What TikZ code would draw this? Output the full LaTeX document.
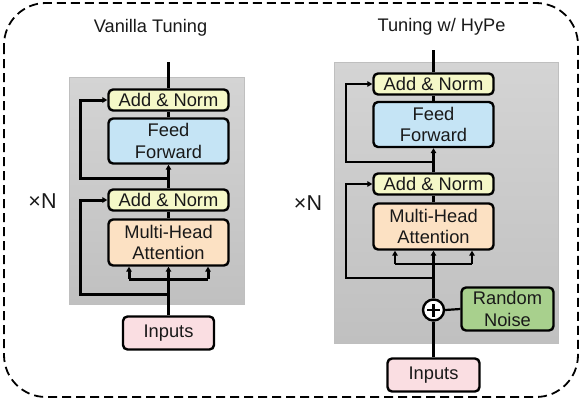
\documentclass[tikz,border=0pt]{standalone}
\usepackage{fontspec}
\setmainfont{Liberation Sans}
\usetikzlibrary{arrows.meta}
\definecolor{anY}{RGB}{245,248,200}
\definecolor{ffB}{RGB}{197,228,245}
\definecolor{mhO}{RGB}{252,225,195}
\definecolor{inP}{RGB}{250,222,226}
\definecolor{rnG}{RGB}{168,208,141}
\definecolor{gTop}{RGB}{212,212,212}
\definecolor{gBot}{RGB}{192,192,192}
\tikzset{
  blk/.style={draw=black, line width=2.4pt, rounded corners=4.5pt, inner sep=0pt, align=center,
    font=\fontsize{18.3}{21.5}\selectfont, text=black!90},
  addnorm/.style={blk, fill=anY, minimum width=120pt, minimum height=21pt},
  ffbox/.style={blk, fill=ffB, minimum width=120pt, minimum height=45pt},
  mhbox/.style={blk, fill=mhO, minimum width=120pt, minimum height=46pt},
  inbox/.style={blk, fill=inP, minimum width=91pt, minimum height=33pt},
  rnbox/.style={blk, fill=rnG, minimum width=92pt, minimum height=43pt},
  conn/.style={draw=black, line width=3pt},
  arr/.style={conn, -{Triangle[length=5pt,width=5.5pt]}},
  rconn/.style={conn, line width=2.2pt},
  rarr/.style={arr, line width=2.2pt},
  panel/.style={draw=black!25, line width=0.5pt, top color=gTop, bottom color=gBot},
  title/.style={font=\fontsize{18.2}{20}\selectfont, text=black!90, anchor=base},
  times/.style={font=\fontsize{21.5}{24}\selectfont, text=black!90, anchor=base},
}
\begin{document}
\begin{tikzpicture}[x=1pt,y=-1pt]
\useasboundingbox (0,0) rectangle (582,400);
% outer dashed frame
\draw[line width=1.8pt, dash pattern=on 9pt off 5pt, rounded corners=42pt] (4,3) rectangle (578,397);

% ---------------- Left: Vanilla Tuning ----------------
\node[title] (t1) at (150.5,32) {Vanilla Tuning};
\path[panel] (69,77) rectangle (244,304);
\node[times] (x1) at (42.5,208) {×N};

\node[addnorm] (an1) at (168.5,100) {Add \& Norm};
\node[ffbox]   (ff1) at (168.5,141) {Feed\\Forward};
\node[addnorm] (an2) at (168.5,200) {Add \& Norm};
\node[mhbox]   (mh1) at (168.5,242.5) {Multi-Head\\Attention};
\node[inbox]   (in1) at (168.5,333) {Inputs};
\coordinate (o1) at (168.5,62);

\coordinate (r1a) at (168.5,294);
\coordinate (r1b) at (80,294);
\coordinate (r2a) at (168.5,178);
\coordinate (r2b) at (80,178);
\coordinate (b1l) at (129,279);
\coordinate (b1r) at (208,279);

\draw[arr] (in1.north) -- (mh1.south);
\draw[conn] (b1l) -- (b1r);
\draw[arr] (b1l) -- (b1l |- mh1.south);
\draw[arr] (b1r) -- (b1r |- mh1.south);
\draw[arr] (r1a) -- (r1b) |- (an2.west);
\draw[conn] (mh1.north) -- (an2.south);
\draw[arr] (an2.north) -- (ff1.south);
\draw[arr] (r2a) -- (r2b) |- (an1.west);
\draw[conn] (ff1.north) -- (an1.south);
\draw[conn] (an1.north) -- (o1);

% ---------------- Right: Tuning w/ HyPe ----------------
\node[title] (t2) at (441.5,31) {Tuning w/ HyPe};
\path[panel] (334,62) rectangle (558,343);
\node[times] (x2) at (308,210) {×N};

\node[addnorm] (an3) at (433.5,84) {Add \& Norm};
\node[ffbox]   (ff2) at (433.5,124.5) {Feed\\Forward};
\node[addnorm] (an4) at (433.5,184) {Add \& Norm};
\node[mhbox]   (mh2) at (433.5,226.5) {Multi-Head\\Attention};
\node[draw=black, line width=2.4pt, fill=white, circle, minimum size=21pt, inner sep=0pt] (pl) at (433.5,310) {};
\draw[line width=2.8pt] ([yshift=-6.5pt]pl.center) -- ([yshift=6.5pt]pl.center)
                        ([xshift=-6.5pt]pl.center) -- ([xshift=6.5pt]pl.center);
\node[rnbox]   (rn) at (507.5,309) {Random\\Noise};
\node[inbox, minimum width=92pt] (in2) at (433.5,375) {Inputs};
\coordinate (o2) at (433.5,50);

\coordinate (r3a) at (433.5,278);
\coordinate (r3b) at (346,278);
\coordinate (r4a) at (433.5,162);
\coordinate (r4b) at (346,162);
\coordinate (b2l) at (395,264);
\coordinate (b2r) at (472,264);

\draw[rconn] (in2.north) -- (pl.south);
\draw[rconn] (rn.west) -- (pl.east);
\draw[rarr] (pl.north) -- (mh2.south);
\draw[rconn] (b2l) -- (b2r);
\draw[rarr] (b2l) -- (b2l |- mh2.south);
\draw[rarr] (b2r) -- (b2r |- mh2.south);
\draw[rarr] (r3a) -- (r3b) |- (an4.west);
\draw[rconn] (mh2.north) -- (an4.south);
\draw[rarr] (an4.north) -- (ff2.south);
\draw[rarr] (r4a) -- (r4b) |- (an3.west);
\draw[rconn] (ff2.north) -- (an3.south);
\draw[rconn] (an3.north) -- (o2);
\end{tikzpicture}
\end{document}
